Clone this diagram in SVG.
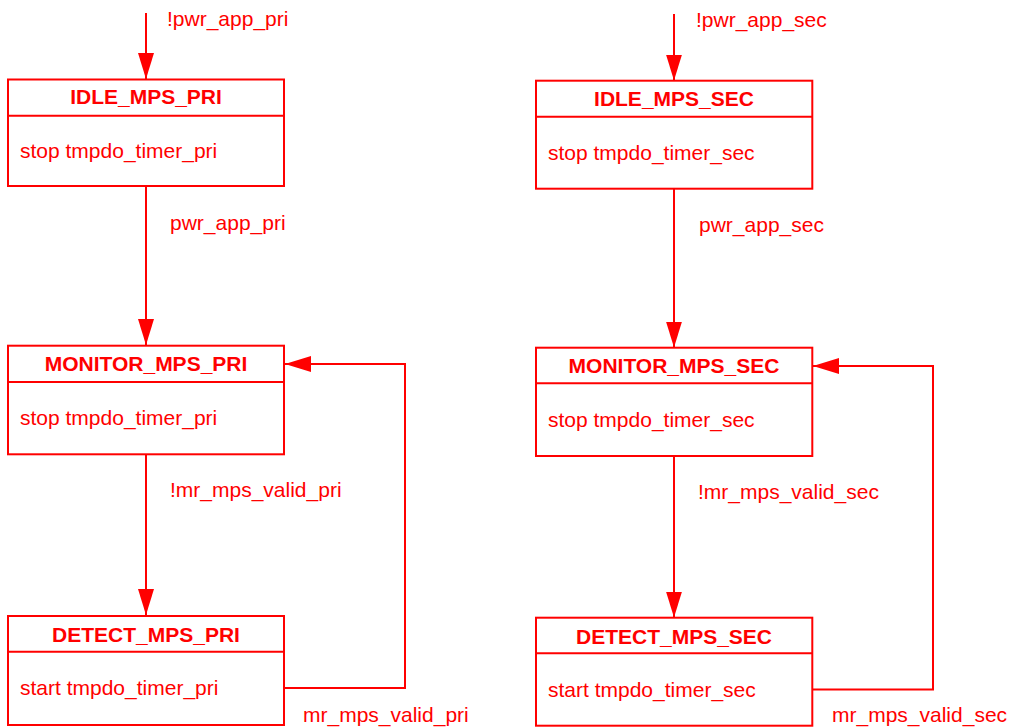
<svg xmlns="http://www.w3.org/2000/svg" width="1012" height="728" viewBox="0 0 1012 728">
<style>
.box{fill:#fff;stroke:#f00;stroke-width:2}
.div{stroke:#f00;stroke-width:2}
.t{font-family:"Liberation Sans",Arial,sans-serif;font-size:21px;font-weight:bold;fill:#f00;text-anchor:middle}
.b{font-family:"Liberation Sans",Arial,sans-serif;font-size:21px;fill:#f00}
.l{font-family:"Liberation Sans",Arial,sans-serif;font-size:21px;fill:#f00}
.c{fill:none;stroke:#f00;stroke-width:2;marker-end:url(#ah)}
</style>
<defs>
<marker id="ah" viewBox="0 0 26 16" refX="26" refY="8" markerWidth="26" markerHeight="16" markerUnits="userSpaceOnUse" orient="auto">
<path d="M0,0 L26,8 L0,16 Z" fill="#f00"/>
</marker>
</defs>
<rect width="1012" height="728" fill="#fff"/>
<g id="connectors">
<path class="c" d="M146,13 V79"/>
<path class="c" d="M146,186 V345"/>
<path class="c" d="M146,454 V615"/>
<path class="c" d="M285,688 H405 V364 H285"/>
<path class="c" d="M674,14 V80.5"/>
<path class="c" d="M674,188.5 V347.5"/>
<path class="c" d="M674,456 V617.5"/>
<path class="c" d="M813,689.5 H933 V366 H813"/>
<text class="l" x="167" y="26">!pwr_app_pri</text>
<text class="l" x="170" y="230">pwr_app_pri</text>
<text class="l" x="170" y="497">!mr_mps_valid_pri</text>
<text class="l" x="303" y="722">mr_mps_valid_pri</text>
<text class="l" x="696" y="27">!pwr_app_sec</text>
<text class="l" x="699" y="232">pwr_app_sec</text>
<text class="l" x="698" y="499">!mr_mps_valid_sec</text>
<text class="l" x="832" y="722">mr_mps_valid_sec</text>
</g>
<g id="IDLE_MPS_PRI">
<rect class="box" x="8" y="79.5" width="276" height="106.5"/>
<line class="div" x1="8" y1="115.7" x2="284" y2="115.7"/>
<text class="t" x="146" y="104">IDLE_MPS_PRI</text>
<text class="b" x="20" y="158">stop tmpdo_timer_pri</text>
</g>
<g id="MONITOR_MPS_PRI">
<rect class="box" x="8" y="345.7" width="276" height="108.6"/>
<line class="div" x1="8" y1="382" x2="284" y2="382"/>
<text class="t" x="146" y="371">MONITOR_MPS_PRI</text>
<text class="b" x="20" y="425">stop tmpdo_timer_pri</text>
</g>
<g id="DETECT_MPS_PRI">
<rect class="box" x="8" y="616" width="276" height="109"/>
<line class="div" x1="8" y1="651.7" x2="284" y2="651.7"/>
<text class="t" x="146" y="642">DETECT_MPS_PRI</text>
<text class="b" x="20" y="695">start tmpdo_timer_pri</text>
</g>
<g id="IDLE_MPS_SEC">
<rect class="box" x="536" y="80.7" width="276.3" height="108"/>
<line class="div" x1="536" y1="116.7" x2="812.3" y2="116.7"/>
<text class="t" x="674" y="105.5">IDLE_MPS_SEC</text>
<text class="b" x="548" y="160">stop tmpdo_timer_sec</text>
</g>
<g id="MONITOR_MPS_SEC">
<rect class="box" x="536" y="347.7" width="276.3" height="108.3"/>
<line class="div" x1="536" y1="383.3" x2="812.3" y2="383.3"/>
<text class="t" x="674" y="373">MONITOR_MPS_SEC</text>
<text class="b" x="548" y="427">stop tmpdo_timer_sec</text>
</g>
<g id="DETECT_MPS_SEC">
<rect class="box" x="536" y="617.7" width="276.3" height="108"/>
<line class="div" x1="536" y1="653.3" x2="812.3" y2="653.3"/>
<text class="t" x="674" y="643.5">DETECT_MPS_SEC</text>
<text class="b" x="548" y="697">start tmpdo_timer_sec</text>
</g>
</svg>
